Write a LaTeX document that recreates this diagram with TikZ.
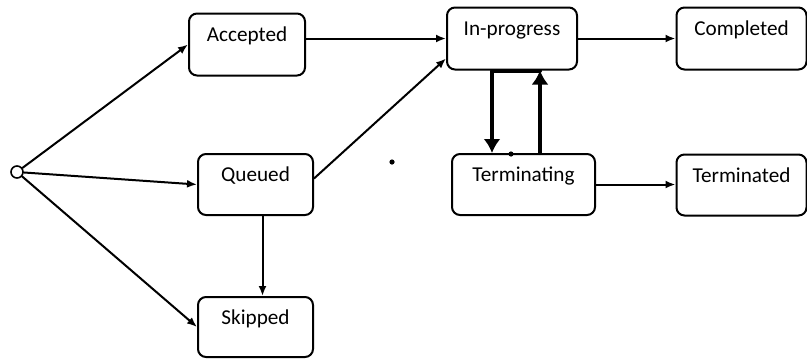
\documentclass[tikz,border=0pt]{standalone}
\usepackage{fontspec}
\setmainfont{Carlito}
\usetikzlibrary{arrows.meta}

\begin{document}
\begin{tikzpicture}[x=0.5pt,y=-0.5pt,line cap=round,line join=round,
    state/.style={draw,line width=1pt,rounded corners=4pt,fill=white,
        minimum height=31pt,text height=7pt,text depth=9.6pt,
        font=\fontsize{10.6}{12}\selectfont},
    flow/.style={line width=1pt,-{Latex[length=5pt,width=4pt]}},
    bigflow/.style={line width=2pt,-{Latex[length=7pt,width=8.5pt]}}]
        \useasboundingbox (0,0) rectangle (807,360);

        % Estado inicial
        \node[circle,draw,fill=white,line width=0.8pt,inner sep=0pt,
            minimum size=6pt] (ini) at (17,172) {};

        % Estados
        \node[state,minimum width=58pt] (acc) at (247,44.5) {Accepted};
        \node[state,minimum width=57.5pt,minimum height=30.5pt] (que) at (255.5,184.5) {Queued};
        \node[state,minimum width=57.5pt,minimum height=30pt] (skp) at (255.5,327) {Skipped};
        \node[state,minimum width=65pt] (inp) at (512,38.5) {In-progress};
        \node[state,minimum width=65pt] (cmp) at (741.5,38.5) {Completed};
        \node[state,minimum width=71.5pt,minimum height=30.5pt] (trm) at (523.5,184.5) {Terminating};
        \node[state,minimum width=65pt,minimum height=30.5pt] (trd) at (741.5,185) {Terminated};

        % Transiciones
        \draw[flow] (ini) -- (acc.west);
        \draw[flow] (ini) -- (que.west);
        \draw[flow] (ini) -- (skp.west);
        \draw[flow] (acc.east |- inp.west) -- (inp.west);
        \draw[flow] ([yshift=3pt]que.east) -- ([yshift=-10pt]inp.west);
        \draw[flow] ([xshift=3.5pt]que.south) -- ([xshift=3.5pt]skp.north);
        \draw[flow] (inp.east) -- (cmp.west);
        \draw[flow] (trm.east) -- (trm.east -| trd.west);

        % Ida y vuelta entre In-progress y Terminating
        \draw[bigflow] ([xshift=14pt]inp.south) -- ([xshift=-10pt]inp.south)
            -- ([xshift=-10pt]inp.south |- trm.north);
        \draw[bigflow] ([xshift=14pt]inp.south |- trm.north) -- ([xshift=14pt]inp.south);

        % Puntos sueltos
        \fill (392,162) circle (1.3pt);
        \fill (511,154) circle (1.3pt);
    \end{tikzpicture}
\end{document}
